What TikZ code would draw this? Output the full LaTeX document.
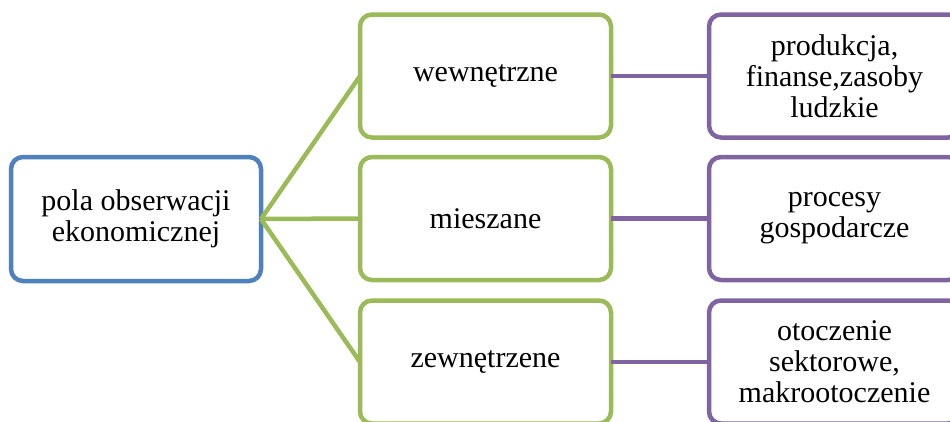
\documentclass[tikz,border=0pt]{standalone}
\usepackage{fontspec}
\setmainfont{Liberation Serif}
\definecolor{boxblue}{HTML}{4F81BD}
\definecolor{boxgreen}{HTML}{9BBB59}
\definecolor{boxpurple}{HTML}{8064A2}
\begin{document}
\begin{tikzpicture}[x=1pt,y=-1pt,
  box/.style={draw, line width=4.5pt, rounded corners=12pt, fill=white,
    align=center, inner sep=0pt, outer sep=0pt,
    font=\fontsize{30}{31}\selectfont},
  rootbox/.style={box, draw=boxblue, minimum width=250pt, minimum height=124pt},
  midbox/.style={box, draw=boxgreen, minimum width=251pt, minimum height=123pt},
  leafbox/.style={box, draw=boxpurple, minimum width=251pt, minimum height=123pt},
  greenlink/.style={draw=boxgreen, line width=4.5pt},
  purplelink/.style={draw=boxpurple, line width=4.5pt}]
\useasboundingbox (0,0) rectangle (950,421);
\clip (0,0) rectangle (950,421);

% root
\node[rootbox] (root) at (136,219) {pola obserwacji\\ekonomicznej};

% middle column
\node[midbox] (wew) at (485.5,76) {wewnętrzne};
\node[midbox] (mie) at (485.5,218.5) {mieszane};
\node[midbox] (zew) at (485.5,362) {zewnętrzene};

% right column
\node[leafbox] (prod) at (834.5,76) {produkcja,\\finanse,zasoby\\ludzkie};
\node[leafbox] (proc) at (834.5,218.5) {procesy\\gospodarcze};
\node[leafbox] (oto) at (834.5,362) {otoczenie\\sektorowe,\\makrootoczenie};

% connectors
\draw[greenlink] (root.east) -- (wew.west);
\draw[greenlink] (root.east) -- (mie.west);
\draw[greenlink] (root.east) -- (zew.west);
\draw[purplelink] (wew.east) -- (prod.west);
\draw[purplelink] (mie.east) -- (proc.west);
\draw[purplelink] (zew.east) -- (oto.west);
\end{tikzpicture}
\end{document}
